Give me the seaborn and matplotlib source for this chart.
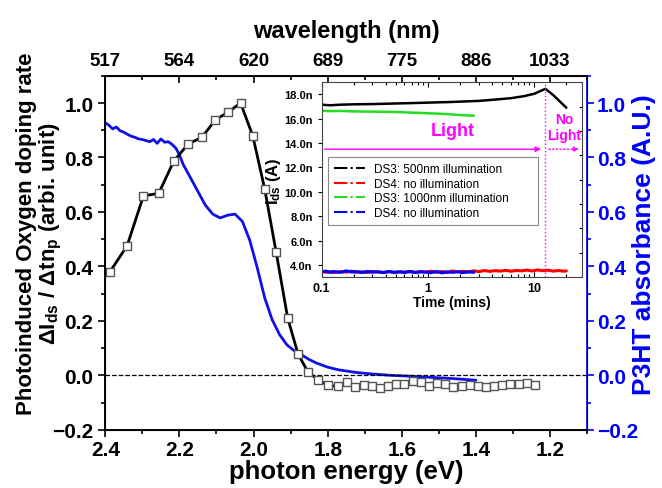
import seaborn as sns
import matplotlib.pyplot as plt
from matplotlib.lines import Line2D
from matplotlib.ticker import MultipleLocator, FixedLocator

# doping rate (black squares) vs photon energy
energy_rate = [2.387, 2.341, 2.297, 2.256, 2.215, 2.176, 2.139, 2.104, 2.068, 2.035,
               2.002, 1.970, 1.939, 1.908, 1.880, 1.853, 1.825, 1.799, 1.772, 1.749,
               1.725, 1.703, 1.681, 1.659, 1.637, 1.615, 1.593, 1.571, 1.549, 1.527,
               1.505, 1.483, 1.461, 1.439, 1.417, 1.395, 1.373, 1.351, 1.329, 1.307,
               1.285, 1.263, 1.241]
doping_rate = [0.381, 0.476, 0.659, 0.668, 0.787, 0.850, 0.874, 0.937, 0.967, 1.000,
               0.879, 0.685, 0.452, 0.211, 0.078, 0.012, -0.017, -0.037, -0.040, -0.024,
               -0.043, -0.035, -0.038, -0.045, -0.040, -0.032, -0.030, -0.022, -0.025, -0.040,
               -0.028, -0.030, -0.043, -0.040, -0.035, -0.038, -0.042, -0.040, -0.036, -0.030,
               -0.033, -0.028, -0.035]

# P3HT absorbance (blue)
energy_abs = [2.40, 2.39, 2.38, 2.37, 2.36, 2.35, 2.34, 2.33, 2.32, 2.31, 2.30, 2.29,
              2.28, 2.27, 2.26, 2.25, 2.24, 2.23, 2.22, 2.21, 2.20, 2.19, 2.17, 2.15,
              2.13, 2.11, 2.09, 2.07, 2.05, 2.03, 2.01, 1.99, 1.97, 1.95, 1.93, 1.91,
              1.89, 1.87, 1.85, 1.83, 1.80, 1.77, 1.72, 1.68, 1.63, 1.58, 1.54, 1.50,
              1.46, 1.42, 1.40]
absorbance = [0.928, 0.918, 0.905, 0.912, 0.898, 0.893, 0.885, 0.878, 0.874, 0.868, 0.866, 0.862,
              0.858, 0.866, 0.852, 0.868, 0.856, 0.858, 0.848, 0.835, 0.810, 0.775, 0.725, 0.675,
              0.625, 0.592, 0.578, 0.588, 0.592, 0.565, 0.495, 0.395, 0.285, 0.205, 0.150, 0.112,
              0.090, 0.075, 0.058, 0.045, 0.030, 0.020, 0.010, 0.005, 0.000, -0.003, -0.006, -0.009,
              -0.012, -0.016, -0.018]

bottom_ticks = [2.4, 2.2, 2.0, 1.8, 1.6, 1.4, 1.2]
wavelength_labels = ["517", "564", "620", "689", "775", "886", "1033"]

# inset: Ids vs time (nA)
t_black = [0.1, 0.12, 0.15, 0.2, 0.3, 0.5, 0.7, 1.0, 1.5, 2.0, 3.0, 4.0, 6.0, 8.0, 10.0, 12.7, 15.0, 20.0]
ids_black = [17.15, 17.1, 17.15, 17.18, 17.2, 17.25, 17.28, 17.32, 17.36, 17.4, 17.46, 17.55,
             17.68, 17.85, 18.05, 18.45, 17.95, 16.9]
t_green = [0.1, 0.12, 0.15, 0.2, 0.3, 0.5, 0.7, 1.0, 1.5, 2.0, 2.7]
ids_green = [16.66, 16.62, 16.64, 16.6, 16.58, 16.55, 16.5, 16.45, 16.38, 16.3, 16.25]
t_noise = [0.1, 0.11, 0.12, 0.13, 0.15, 0.17, 0.19, 0.21, 0.24, 0.27, 0.3, 0.34, 0.38, 0.43,
           0.48, 0.54, 0.6, 0.68, 0.76, 0.85, 0.95, 1.07, 1.2, 1.35, 1.5, 1.7, 1.9, 2.1, 2.4,
           2.7, 3.0, 3.4, 3.8, 4.3, 4.8, 5.4, 6.0, 6.8, 7.6, 8.5, 9.5, 10.7, 12.0, 13.5, 15.0,
           17.0, 19.0, 20.0]
ids_red = [3.48, 3.40, 3.45, 3.38, 3.46, 3.42, 3.50, 3.41, 3.44, 3.39, 3.47, 3.43, 3.40, 3.46,
           3.38, 3.45, 3.42, 3.48, 3.40, 3.46, 3.43, 3.50, 3.41, 3.47, 3.39, 3.52, 3.44, 3.49,
           3.45, 3.53, 3.46, 3.55, 3.48, 3.54, 3.50, 3.57, 3.49, 3.56, 3.52, 3.59, 3.51, 3.60,
           3.54, 3.58, 3.50, 3.55, 3.49, 3.52]
t_blue = t_noise[:30]
ids_blue = [3.45, 3.50, 3.41, 3.47, 3.40, 3.52, 3.43, 3.46, 3.39, 3.48, 3.42, 3.45, 3.38, 3.47,
            3.41, 3.44, 3.40, 3.46, 3.39, 3.45, 3.42, 3.38, 3.47, 3.36, 3.44, 3.40, 3.46, 3.38,
            3.43, 3.41]
inset_yticks = [4.0, 6.0, 8.0, 10.0, 12.0, 14.0, 16.0, 18.0]
legend_labels = ["DS3: 500nm illumination", "DS4: no illumination",
                 "DS3: 1000nm illumination", "DS4: no illumination"]
legend_colors = ["black", "red", "#22dd22", "blue"]

sns.set_style("ticks")
plt.rcParams['font.family'] = ['Liberation Sans', 'DejaVu Sans']
plt.rcParams['font.weight'] = 'bold'
plt.rcParams['axes.labelweight'] = 'bold'
plt.rcParams['text.color'] = 'black'
plt.rcParams['axes.labelcolor'] = 'black'
plt.rcParams['axes.edgecolor'] = 'black'
plt.rcParams['xtick.color'] = 'black'
plt.rcParams['ytick.color'] = 'black'
plt.rcParams['mathtext.fontset'] = 'custom'
plt.rcParams['mathtext.rm'] = 'Liberation Sans:bold'
plt.rcParams['mathtext.it'] = 'Liberation Sans:bold'
plt.rcParams['mathtext.default'] = 'rm'

fig = plt.figure(figsize=(6.62, 4.89), dpi=100)
ax = fig.add_axes([0.159, 0.119, 0.728, 0.724])
ax2 = ax.twinx()

sns.lineplot(x=energy_abs, y=absorbance, ax=ax2, color="#1010e8", lw=2, sort=False, estimator=None)
sns.lineplot(x=energy_rate, y=doping_rate, ax=ax, color="black", lw=2, sort=False, estimator=None)
sns.scatterplot(x=energy_rate, y=doping_rate, ax=ax, marker="s", s=36, facecolor="white",
                edgecolor="#555555", linewidth=1, zorder=3)
ax.axhline(0, color="black", ls="--", lw=0.9)
ax.set_zorder(ax2.get_zorder() + 1)
ax.patch.set_visible(False)

for a in (ax, ax2):
    a.set_xlim(2.4, 1.1)
    a.set_ylim(-0.2, 1.1)
ax.set_xticks(bottom_ticks)
ax.xaxis.set_minor_locator(MultipleLocator(0.1))
ax.yaxis.set_major_locator(FixedLocator([-0.2, 0.0, 0.2, 0.4, 0.6, 0.8, 1.0]))
ax.yaxis.set_minor_locator(MultipleLocator(0.1))
ax2.yaxis.set_major_locator(FixedLocator([-0.2, 0.0, 0.2, 0.4, 0.6, 0.8, 1.0]))
ax2.yaxis.set_minor_locator(MultipleLocator(0.1))
ax.tick_params(axis="both", which="major", labelsize=15, length=5, width=1.2, direction="out")
ax.tick_params(axis="x", which="major", pad=2)
ax.tick_params(axis="both", which="minor", length=3, width=1.2, direction="out")
ax2.tick_params(axis="y", which="major", labelsize=15, length=5, width=1.2, colors="blue", pad=2)
ax2.tick_params(axis="y", which="minor", length=3, width=1.2, colors="blue")
for sp in ax2.spines.values():
    sp.set_linewidth(1.2)
ax2.spines["right"].set_color("blue")
for sp in ax.spines.values():
    sp.set_linewidth(1.2)
ax.spines["right"].set_visible(False)

ax.set_xlabel("photon energy (eV)", fontsize=18.5)
ax.xaxis.set_label_coords(0.5, -0.083)
ax.set_ylabel("Photoinduced Oxygen doping rate\nΔI$_{ds}$ / Δtn$_{p}$ (arbi. unit)", fontsize=16,
              linespacing=1.05)
ax.yaxis.set_label_coords(-0.085, 0.556)
ax2.set_ylabel("P3HT absorbance (A.U.)", fontsize=19, color="blue")
ax2.yaxis.set_label_coords(1.092, 0.525)

axt = ax.twiny()
axt.set_xlim(2.4, 1.1)
axt.set_xticks(bottom_ticks)
axt.set_xticklabels(wavelength_labels)
axt.xaxis.set_minor_locator(MultipleLocator(0.1))
axt.tick_params(axis="x", which="major", labelsize=13.5, length=5, width=1.2, direction="in", pad=5)
axt.tick_params(axis="x", which="minor", length=3, width=1.2, direction="in")
axt.set_xlabel("wavelength (nm)", fontsize=17, labelpad=11)
axt.set_zorder(ax.get_zorder() + 1)
axt.patch.set_visible(False)

# inset
axi = fig.add_axes([0.486, 0.431, 0.393, 0.399])
axi.set_zorder(axt.get_zorder() + 1)
axi.set_facecolor("white")
sns.lineplot(x=t_noise, y=ids_red, ax=axi, color="red", lw=2.2, sort=False, estimator=None)
sns.lineplot(x=t_blue, y=ids_blue, ax=axi, color="blue", lw=2.2, sort=False, estimator=None)
sns.lineplot(x=t_black, y=ids_black, ax=axi, color="black", lw=1.8, sort=False, estimator=None)
sns.lineplot(x=t_green, y=ids_green, ax=axi, color="#22dd22", lw=1.8, sort=False, estimator=None)
axi.set_xscale("log")
axi.set_xlim(0.1, 28)
axi.set_ylim(3.0, 19.0)
axi.set_yticks(inset_yticks)
axi.set_yticklabels([f"{v:.1f}n" for v in inset_yticks])
axi.yaxis.set_minor_locator(MultipleLocator(1.0))
axi.set_xticks([0.1, 1, 10])
axi.set_xticklabels(["0.1", "1", "10"])
axi.tick_params(axis="x", which="both", direction="in", top=True, labelsize=9, width=0.8)
axi.tick_params(axis="y", which="major", direction="out", labelsize=8, width=0.8, length=3)
axi.tick_params(axis="y", which="minor", direction="in", right=True, left=False, width=0.8, length=2)
for sp in axi.spines.values():
    sp.set_linewidth(0.8)
    sp.set_color("#444444")
axi.set_xlabel("Time (mins)", fontsize=10, labelpad=1)
axi.set_ylabel("I$_{ds}$ (A)", fontsize=12, labelpad=1)

axi.axvline(12.7, color="magenta", ls=":", lw=1)
axi.annotate("", xy=(12.3, 13.5), xytext=(0.1, 13.5),
             arrowprops=dict(arrowstyle="-|>", color="magenta", lw=1, mutation_scale=8))
axi.annotate("", xy=(28, 13.5), xytext=(12.9, 13.5),
             arrowprops=dict(arrowstyle="-|>", color="magenta", lw=1, ls=":", mutation_scale=8))
axi.text(1.7, 15.0, "Light", color="magenta", fontsize=13, ha="center", va="center")
axi.text(19, 15.3, "No\nLight", color="magenta", fontsize=10, ha="center", va="center", linespacing=1.2)

handles = [Line2D([], [], color=c, ls="-.", lw=1.5) for c in legend_colors]
leg = axi.legend(handles, legend_labels, loc="lower left", bbox_to_anchor=(0.0, 0.235, 0.855, 0.38),
                 mode="expand", frameon=True, fancybox=False, framealpha=1,
                 edgecolor="#888888", handlelength=2.6, borderpad=0.55, labelspacing=0.22,
                 prop={"weight": "normal", "size": 8.5})
leg.get_frame().set_linewidth(0.8)
leg.set_zorder(1)

fig.savefig("out.png", dpi=100)
